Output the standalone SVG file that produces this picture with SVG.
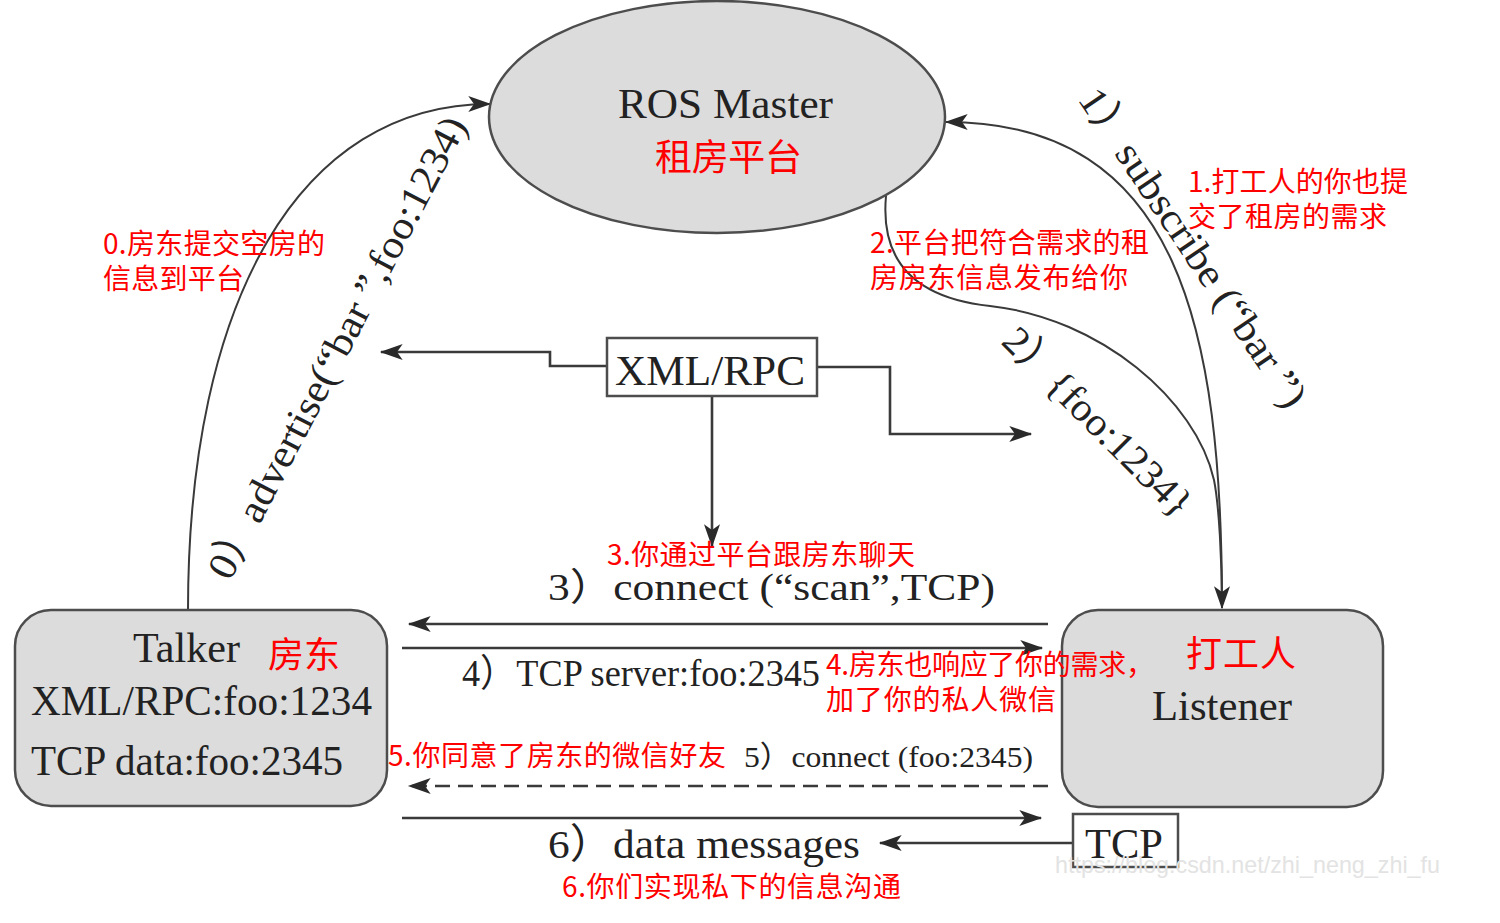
<svg xmlns="http://www.w3.org/2000/svg" width="1500" height="923" viewBox="0 0 1500 923">
<style>
.node{fill:#dcdcdc;stroke:#4d4d4d;stroke-width:2.5}
.box{fill:#fff;stroke:#4d4d4d;stroke-width:2.5}
.ln{fill:none;stroke:#3a3a3a;stroke-width:2.6}
.arc{fill:none;stroke:#3a3a3a;stroke-width:2}
.serif{font-family:"Liberation Serif","Noto Sans CJK SC",serif;fill:#222}
.red{font-family:"Noto Sans CJK SC",sans-serif;fill:#ff0000}
</style>
<defs>
<marker id="ah" viewBox="0 0 20 14" refX="19" refY="7" markerWidth="24" markerHeight="16" markerUnits="userSpaceOnUse" orient="auto">
<path d="M0,0 L20,7 L0,14 L5,7 z" fill="#2a2a2a"/>
</marker>
</defs>
<rect width="1500" height="923" fill="#fff"/>

<g id="connectors">
<path class="arc" d="M188 610 C188 300 300 104 490 104" marker-end="url(#ah)"/>
<path class="arc" d="M1222 608 C1222 330 1180 122 946 122" marker-end="url(#ah)"/>
<path class="arc" d="M886 196 C880 262 915 298 990 306 C1100 318 1196 400 1214 480 C1219 505 1222 560 1222 608" marker-end="url(#ah)"/>
<polyline class="ln" points="607,366 550,366 550,352 381,352" marker-end="url(#ah)"/>
<polyline class="ln" points="817,367 890,367 890,434 1031,434" marker-end="url(#ah)"/>
<line class="ln" x1="712" y1="396" x2="712" y2="546" marker-end="url(#ah)"/>
<line class="ln" x1="1048" y1="624" x2="409" y2="624" marker-end="url(#ah)"/>
<line class="ln" x1="402" y1="648" x2="1042" y2="648" marker-end="url(#ah)"/>
<line class="ln" x1="1048" y1="786" x2="409" y2="786" stroke-dasharray="15 8" marker-end="url(#ah)"/>
<line class="ln" x1="402" y1="818" x2="1041" y2="818" marker-end="url(#ah)"/>
<line class="ln" x1="1073" y1="843" x2="880" y2="843" marker-end="url(#ah)"/>
</g>

<g id="ros-master">
<ellipse class="node" cx="717" cy="117" rx="228" ry="116"/>
<text class="serif" x="618" y="118" font-size="43" textLength="215" lengthAdjust="spacingAndGlyphs">ROS Master</text>
<text class="red" x="655" y="171" font-size="37" textLength="147">租房平台</text>
</g>

<g id="talker">
<rect class="node" x="15" y="610" width="372" height="196" rx="36"/>
<text class="serif" x="133" y="662" font-size="42" textLength="107" lengthAdjust="spacingAndGlyphs">Talker</text>
<text class="red" x="268" y="668" font-size="36" textLength="72">房东</text>
<text class="serif" x="31" y="715" font-size="42" textLength="341" lengthAdjust="spacingAndGlyphs">XML/RPC:foo:1234</text>
<text class="serif" x="31" y="775" font-size="42" textLength="312" lengthAdjust="spacingAndGlyphs">TCP data:foo:2345</text>
</g>

<g id="listener">
<rect class="node" x="1062" y="610" width="321" height="197" rx="36"/>
<text class="red" x="1186" y="667" font-size="36" textLength="110">打工人</text>
<text class="serif" x="1152" y="720" font-size="42" textLength="140" lengthAdjust="spacingAndGlyphs">Listener</text>
</g>

<g id="xmlrpc">
<rect class="box" x="607" y="338" width="210" height="58"/>
<text class="serif" x="615" y="385" font-size="43" textLength="190" lengthAdjust="spacingAndGlyphs">XML/RPC</text>
</g>

<g id="tcp">
<rect class="box" x="1073" y="814" width="105" height="53"/>
<text class="serif" x="1085" y="858" font-size="43" textLength="78" lengthAdjust="spacingAndGlyphs">TCP</text>
</g>

<g id="labels">
<text class="serif" transform="translate(230,582) rotate(-62.5)" font-size="40" textLength="515" lengthAdjust="spacingAndGlyphs">0）advertise(“bar ”,foo:1234)</text>
<text class="serif" transform="translate(1077,99) rotate(56)" font-size="40" textLength="376" lengthAdjust="spacingAndGlyphs">1）subscribe (“bar ”)</text>
<text class="serif" transform="translate(1000,343) rotate(45)" font-size="40" textLength="250" lengthAdjust="spacingAndGlyphs">2）{foo:1234}</text>
<text class="serif" x="548" y="600" font-size="38" textLength="447" lengthAdjust="spacingAndGlyphs">3）connect (“scan”,TCP)</text>
<text class="serif" x="462" y="686" font-size="38" textLength="358" lengthAdjust="spacingAndGlyphs">4）TCP server:foo:2345</text>
<text class="serif" x="744" y="767" font-size="30" textLength="289" lengthAdjust="spacingAndGlyphs">5）connect (foo:2345)</text>
<text class="serif" x="548" y="858" font-size="41" textLength="312" lengthAdjust="spacingAndGlyphs">6）data messages</text>

<text class="red" x="103" y="254" font-size="28" textLength="222">0.房东提交空房的</text>
<text class="red" x="103" y="289" font-size="28" textLength="141">信息到平台</text>
<text class="red" x="1188" y="192" font-size="28" textLength="220">1.打工人的你也提</text>
<text class="red" x="1188" y="227" font-size="28" textLength="199">交了租房的需求</text>
<text class="red" x="870" y="253" font-size="28" textLength="279">2.平台把符合需求的租</text>
<text class="red" x="870" y="288" font-size="28" textLength="258">房房东信息发布给你</text>
<text class="red" x="607" y="565" font-size="28" textLength="308">3.你通过平台跟房东聊天</text>
<text class="red" x="826" y="675" font-size="28" textLength="328">4.房东也响应了你的需求，</text>
<text class="red" x="826" y="710" font-size="28" textLength="230">加了你的私人微信</text>
<text class="red" x="388" y="766" font-size="28" textLength="338">5.你同意了房东的微信好友</text>
<text class="red" x="562" y="897" font-size="28" textLength="339">6.你们实现私下的信息沟通</text>

<text x="1055" y="873" font-family="Liberation Sans, sans-serif" font-size="24" fill="#e3e3e3" textLength="385" lengthAdjust="spacingAndGlyphs">https://blog.csdn.net/zhi_neng_zhi_fu</text>
</g>
</svg>
